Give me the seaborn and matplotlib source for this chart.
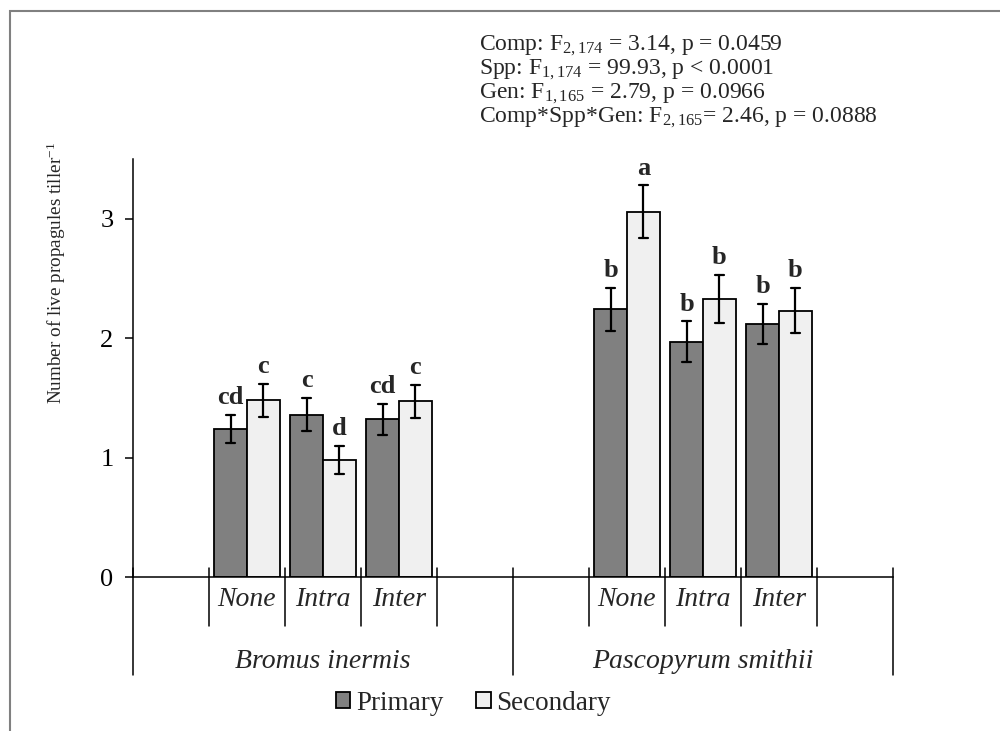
import matplotlib
matplotlib.use("Agg")
import matplotlib.pyplot as plt
from matplotlib.patches import Rectangle
import seaborn as sns
import pandas as pd

# ---- data -------------------------------------------------------------
species = ["Bromus inermis", "Pascopyrum smithii"]
competition = ["None", "Intra", "Inter"]
generation = ["Primary", "Secondary"]

primary_mean = [1.24, 1.36, 1.32, 2.24, 1.97, 2.12]
primary_se = [0.12, 0.14, 0.13, 0.18, 0.17, 0.17]
secondary_mean = [1.48, 0.98, 1.47, 3.06, 2.33, 2.23]
secondary_se = [0.14, 0.12, 0.14, 0.22, 0.20, 0.19]

primary_letters = ["cd", "c", "cd", "b", "b", "b"]
secondary_letters = ["c", "d", "c", "a", "b", "b"]

stats_lines = [
    r"Comp: F$_{2,174}$ = 3.14, p = 0.0459",
    r"Spp: F$_{1,174}$ = 99.93, p < 0.0001",
    r"Gen: F$_{1,165}$ = 2.79, p = 0.0966",
    r"Comp*Spp*Gen: F$_{2,165}$= 2.46, p = 0.0888",
]
y_ticks = [0, 1, 2, 3]

# ---- long-form table: each mean is bracketed by mean - se and mean + se
rows = []
for g, means, ses in [("Primary", primary_mean, primary_se),
                      ("Secondary", secondary_mean, secondary_se)]:
    k = 0
    for sp in species:
        for comp in competition:
            for v in (means[k] - ses[k], means[k] + ses[k]):
                rows.append({"slot": f"{sp}|{comp}", "gen": g, "value": v})
            k += 1
df = pd.DataFrame(rows)

# slot order with an empty slot on each side of every species block
order = []
for sp in species:
    order.append(f"{sp}|_left")
    order += [f"{sp}|{c}" for c in competition]
    order.append(f"{sp}|_right")

# ---- style ------------------------------------------------------------
sns.set_style("white")
plt.rcParams["font.family"] = ["Liberation Serif", "DejaVu Serif"]
plt.rcParams["mathtext.fontset"] = "custom"
plt.rcParams["mathtext.rm"] = "Liberation Serif"
plt.rcParams["mathtext.it"] = "Liberation Serif:italic"
plt.rcParams["mathtext.bf"] = "Liberation Serif:bold"

W, H = 1000, 731
fig = plt.figure(figsize=(W / 100, H / 100), dpi=100)
x0, x1, y_top, y_bot = 133, 893, 159, 577
ax = fig.add_axes([x0 / W, 1 - y_bot / H, (x1 - x0) / W, (y_bot - y_top) / H])

palette = {"Primary": "#808080", "Secondary": "#f0f0f0"}
sns.barplot(
    data=df, x="slot", y="value", hue="gen", order=order,
    hue_order=generation, palette=palette, estimator="mean",
    errorbar=lambda v: (v.min(), v.max()), width=0.86, gap=0,
    capsize=0.25, err_kws={"color": "black", "linewidth": 1.6},
    edgecolor="black", linewidth=1.3, saturation=1, ax=ax, legend=True,
)

ax.set_xlim(-0.5, len(order) - 0.5)
ax.set_ylim(0, 3.5)
ax.set_yticks(y_ticks)
ax.set_yticklabels([str(t) for t in y_ticks], fontsize=19)
ax.tick_params(axis="y", direction="out", length=6, width=1.1, pad=8,
               left=True, colors="black")
ax.tick_params(axis="x", bottom=False, labelbottom=False)
ax.set_xlabel("")
ax.set_ylabel("")
for s in ["top", "right"]:
    ax.spines[s].set_visible(False)
for s in ["left", "bottom"]:
    ax.spines[s].set_color("black")
    ax.spines[s].set_linewidth(1.1)

# significance letters above the error bars
letters = {"Primary": primary_letters, "Secondary": secondary_letters}
means = {"Primary": primary_mean, "Secondary": secondary_mean}
ses = {"Primary": primary_se, "Secondary": secondary_se}
filled = [i for i, s in enumerate(order) if not s.split("|")[1].startswith("_")]
for cont, g in zip(ax.containers, generation):
    for bar in cont:
        cx = bar.get_x() + bar.get_width() / 2
        idx = int(round(cx))
        if idx not in filled:
            continue
        k = filled.index(idx)
        ax.annotate(letters[g][k], (cx, means[g][k] + ses[g][k]),
                    xytext=(0, 4), textcoords="offset points",
                    ha="center", va="bottom", fontsize=19,
                    fontweight="bold")

# category separators below the axis
tr = ax.get_xaxis_transform()
ax_h = y_bot - y_top
up = 9 / ax_h
short_dn = -49 / ax_h
long_dn = -98 / ax_h
n_per = len(competition) + 2
for b in range(len(species)):
    base = b * n_per
    for j in range(1, n_per):
        xp = base + j - 0.5
        ax.plot([xp, xp], [up, short_dn], transform=tr, color="black",
                lw=1.1, clip_on=False)
for b in range(len(species) + 1):
    xp = b * n_per - 0.5
    ax.plot([xp, xp], [up, long_dn], transform=tr, color="black",
            lw=1.1, clip_on=False)

# category and species labels
for i, s in enumerate(order):
    sp, comp = s.split("|")
    if not comp.startswith("_"):
        ax.text(i, -23 / ax_h, comp, transform=tr, ha="center", va="center",
                fontsize=20, fontstyle="italic")
for b, sp in enumerate(species):
    ax.text(b * n_per + (n_per - 1) / 2, -84 / ax_h, sp, transform=tr,
            ha="center", va="center", fontsize=20, fontstyle="italic")

# y-axis title
fig.text(56 / W, 1 - 273 / H, r"Number of live propagules tiller$^{-1}$",
         rotation=90, ha="center", va="center", fontsize=13.8)

# statistics block
for i, line in enumerate(stats_lines):
    fig.text(479 / W, 1 - (50 + 24 * i) / H, line, ha="left",
             va="baseline", fontsize=17)

# legend
handles, labels = ax.get_legend_handles_labels()
ax.legend(handles, labels, loc="center", ncol=2, frameon=False,
          bbox_to_anchor=(473 / W, 1 - 703 / H), bbox_transform=fig.transFigure,
          fontsize=19.5, handlelength=0.55, handleheight=0.55,
          handletextpad=0.2, columnspacing=1.2, borderaxespad=0)

# outer frame
fig.patches.append(Rectangle((10 / W, -0.1), 2, 1.1 - 11 / H, fill=False,
                             edgecolor="#808080", lw=1.5,
                             transform=fig.transFigure))

fig.savefig("out.png", dpi=100)
